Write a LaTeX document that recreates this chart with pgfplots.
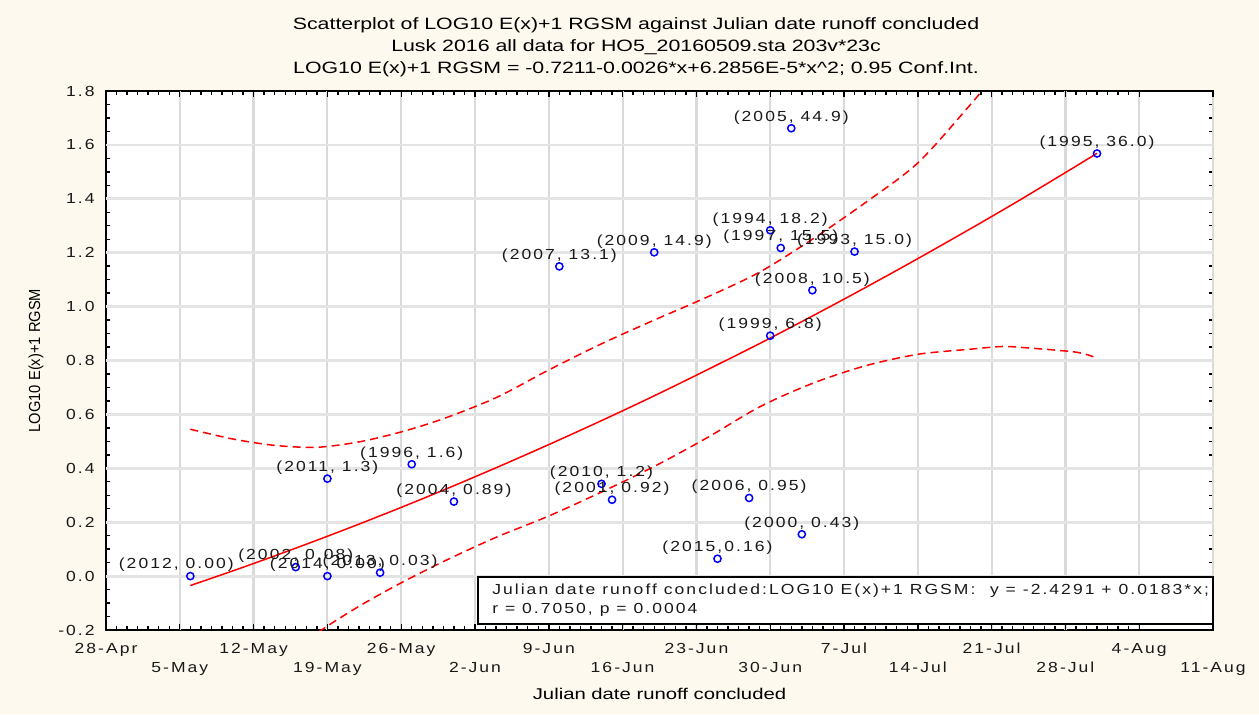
\documentclass[border=0pt]{standalone}
\usepackage{fontspec}
\setmainfont{Liberation Sans}
\newfontfamily\lblfont{Liberation Sans}[FakeStretch=1.2,LetterSpace=14]
\newfontfamily\ttlfont{Liberation Sans}[FakeStretch=1.3]
\newfontfamily\ylfont{Liberation Sans}[FakeStretch=0.92]
\usepackage{pgfplots}
\pgfplotsset{compat=1.18}
\usepackage{pgfplotstable}
\definecolor{cream}{RGB}{253,249,238}
\definecolor{gridgray}{RGB}{218,218,218}
\definecolor{hgridgray}{RGB}{228,228,228}

% day of year, log10(E(x)+1), label
\pgfplotstableread{
day y      dx  lab
126 0.0000 -7  {(2012, 0.00)}
136 0.0334 0   {(2002, 0.08)}
139 0.0000 0   {(2014, 0.00)}
144 0.0128 0   {(2013, 0.03)}
139 0.3617 0   {(2011, 1.3)}
147 0.4150 0   {(1996, 1.6)}
151 0.2765 0   {(2004, 0.89)}
165 0.3424 0   {(2010, 1.2)}
166 0.2833 0   {(2001, 0.92)}
179 0.2900 0   {(2006, 0.95)}
184 0.1553 0   {(2000, 0.43)}
176 0.0645 0   {(2015,0.16)}
161 1.1492 0   {(2007, 13.1)}
170 1.2014 0   {(2009, 14.9)}
181 1.2833 0   {(1994, 18.2)}
182 1.2175 0   {(1997, 15.5)}
189 1.2041 0   {(1993, 15.0)}
185 1.0607 0   {(2008, 10.5)}
181 0.8921 0   {(1999, 6.8)}
183 1.6618 0   {(2005, 44.9)}
212 1.5682 0   {(1995, 36.0)}
}\pts

\pgfplotstableread{
day fit    up     lo
126 -0.035 0.545 -0.615
130 0.019  0.509 -0.471
134 0.075  0.485 -0.335
138 0.133  0.478 -0.212
142 0.193  0.498 -0.112
146 0.255  0.535 -0.025
150 0.319  0.584  0.054
155 0.402  0.662  0.144
160 0.488  0.765  0.223
165 0.577  0.862  0.312
170 0.669  0.950  0.407
175 0.765  1.035  0.513
180 0.863  1.128  0.628
185 0.965  1.250  0.715
190 1.070  1.385  0.780
195 1.178  1.533  0.823
200 1.289  1.750  0.842
203 1.357  1.890  0.852
205 1.403  1.963  0.848
210 1.521  2.200  0.831
212 1.569  2.320  0.809
}\fit

\begin{document}
\begin{tikzpicture}
\fill[cream] (-53pt,-42pt) rectangle (576.5pt,315pt);
\fill[white] (0,0) rectangle (553.5pt,269.5pt);
\begin{axis}[
  at={(0,0)}, anchor=south west,
  scale only axis, width=553.5pt, height=269.5pt,
  xmin=118, xmax=223, ymin=-0.2, ymax=1.8,
  clip mode=individual,
  axis line style={line width=0.8pt},
  xtick={118,132,...,216},
  xticklabels={28-Apr,12-May,26-May,9-Jun,23-Jun,7-Jul,21-Jul,4-Aug},
  extra x ticks={125,139,...,223},
  extra x tick labels={5-May,19-May,2-Jun,16-Jun,30-Jun,14-Jul,28-Jul,11-Aug},
  extra x tick style={grid=major, xticklabel style={yshift=-9.5pt}},
  minor x tick num=13,
  ytick={-0.2,0,...,1.8},
  minor y tick num=3,
  xmajorgrids, ymajorgrids,
  major grid style={line width=1.1pt, gridgray},
  major tick length=3pt, minor tick length=1.8pt,
  tick style={black, line width=0.7pt},
  tick label style={font=\lblfont\fontsize{7.3}{8}\selectfont, text=black!90},
  xticklabel style={inner sep=0pt, anchor=north, text height=5pt, text depth=1.5pt},
  xticklabel shift=6.3pt,
  yticklabel style={inner sep=0pt, anchor=east,
    /pgf/number format/fixed, /pgf/number format/fixed zerofill,
    /pgf/number format/precision=1, /pgf/number format/assume math mode=true},
  yticklabel shift=5.5pt,
]
% horizontal grid lines, drawn beneath the plots
\pgfplotsinvokeforeach{0,0.2,0.4,0.6,0.8,1.0,1.2,1.4,1.6}{
  \draw[hgridgray, line width=1.4pt] (axis cs:118,#1) -- (axis cs:223,#1);
}
\addplot[red, line width=0.75pt, smooth] table[x=day, y=fit] {\fit};
\addplot[red, line width=0.75pt, smooth, dash pattern=on 4pt off 2.5pt] table[x=day, y=up] {\fit};
\addplot[red, line width=0.75pt, smooth, dash pattern=on 4pt off 2.5pt] table[x=day, y=lo] {\fit};
\addplot[only marks, mark=o, mark size=1.8pt, mark options={blue, line width=0.75pt},
  point meta=explicit symbolic,
  visualization depends on={\thisrow{dx}\as\dx},
  nodes near coords={\pgfplotspointmeta},
  every node near coord/.append style={anchor=center, inner sep=0pt, yshift=5.5pt,
    xshift=\dx pt, font=\lblfont\fontsize{7.3}{8}\selectfont, text=black!90}]
  table[x=day, y=y, meta=lab] {\pts};

\draw[fill=white, line width=0.75pt] (axis cs:153.3,-0.004) rectangle (axis cs:223,-0.178);
\node[anchor=west, align=left, inner sep=0pt, font=\lblfont\fontsize{7.3}{9.5}\selectfont, text=black!90]
  at (axis cs:154.6,-0.091)
  {Julian date runoff concluded:LOG10 E(x)+1 RGSM:\quad y = -2.4291 + 0.0183*x;\\
   r = 0.7050, p = 0.0004};

\node[font=\ttlfont\fontsize{8.2}{9}\selectfont] at ([yshift=33pt]rel axis cs:0.4788,1)
  {Scatterplot of LOG10 E(x)+1 RGSM against Julian date runoff concluded};
\node[font=\ttlfont\fontsize{8.2}{9}\selectfont] at ([yshift=22pt]rel axis cs:0.4788,1)
  {Lusk 2016 all data for HO5\_20160509.sta 203v*23c};
\node[font=\ttlfont\fontsize{8.2}{9}\selectfont] at ([yshift=11pt]rel axis cs:0.4788,1)
  {LOG10 E(x)+1 RGSM = -0.7211-0.0026*x+6.2856E-5*x\textasciicircum2; 0.95 Conf.Int.};
\node[rotate=90, font=\ylfont\fontsize{8}{9}\selectfont] at ([xshift=-35pt]rel axis cs:0,0.5)
  {LOG10 E(x)+1 RGSM};
\node[font=\ttlfont\fontsize{7.8}{9}\selectfont] at ([yshift=-32pt]rel axis cs:0.5,0)
  {Julian date runoff concluded};
\end{axis}
\pgfresetboundingbox
\useasboundingbox (-53pt,-42pt) rectangle (576.5pt,315pt);
\end{tikzpicture}
\end{document}
